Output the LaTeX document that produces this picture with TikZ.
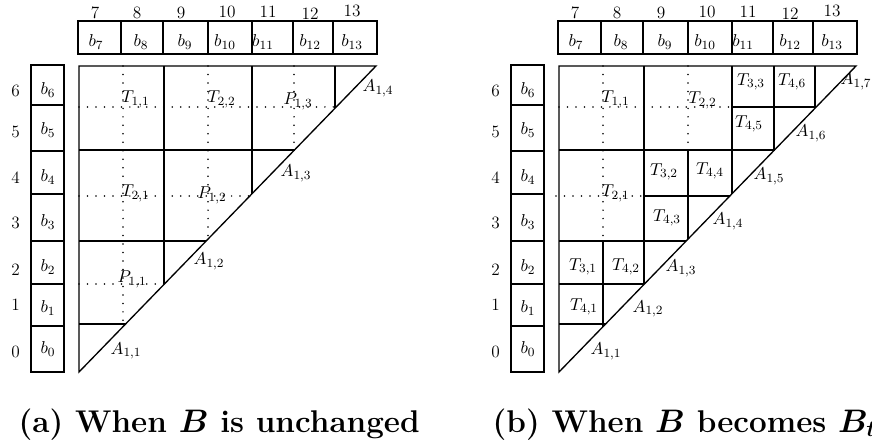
\documentclass[tikz,border=0pt]{standalone}
\usepackage{amsmath}
\begin{document}
\begin{tikzpicture}[x=0.6369pt,y=-0.6369pt,line width=0.85pt,
  lbl/.style={inner sep=0pt,font=\fontsize{11}{13}\selectfont},
  bw/.style={lbl,anchor=base west},
  dotl/.style={line width=1.1pt,dash pattern=on 0pt off 5.4pt,line cap=round},
  captxt/.style={inner sep=0pt,anchor=base west,font=\fontsize{20}{24}\selectfont\bfseries\boldmath}]
\useasboundingbox (0,0) rectangle (872,441);

\newcommand{\pframe}{%
  % column numbers
  \foreach \n/\x/\y in {7/95/12.5,8/137/12.5,9/181/12.5,10/227/12,11/268/12,12/310/14,13/352/10.5}
    \node[lbl] (num\n) at (\x,\y) {\n};
  % top boxes
  \draw (78,21) rectangle (377,54);
  \foreach \x in {121,163,208,252,293,333} \draw (\x,21) -- (\x,54);
  \foreach \n/\x in {7/96,8/141,9/185,10/225,11/263,12/310,13/352}
    \node[lbl] (tb\n) at (\x,42) {$b_{\n}$};
  % left boxes
  \draw (31,65) rectangle (64,372);
  \foreach \y in {105,151,194,241,284,326} \draw (31,\y) -- (64,\y);
  \foreach \n/\y in {6/90,5/130,4/177,3/222,2/267,1/308,0/349}
    \node[lbl] (lb\n) at (48,\y) {$b_{\n}$};
  \foreach \n/\y in {6/91,5/132,4/178,3/223,2/270,1/305,0/352}
    \node[lbl] (rn\n) at (15.5,\y) {\n};
  % main triangle
  \coordinate (tl) at (79,66);
  \coordinate (tr) at (376,66);
  \coordinate (bl) at (79,372);
  \draw (tr) -- (tl) -- (bl) -- cycle;
}

% ---------------- panel (a)
\begin{scope}[name prefix=a-]
\pframe
\draw (79,150) -- (294.5,150);
\draw (79,241) -- (206.1,241);
\draw (79,324) -- (125.6,324);
\draw (164,66) -- (164,284.4);
\draw (252,66) -- (252,193.8);
\draw (335,66) -- (335,108.2);
\draw[dotl] (79,107) -- (335,107);
\draw[dotl] (79,196) -- (249.8,196);
\draw[dotl] (79,284) -- (164,284);
\draw[dotl] (123,66) -- (123,324);
\draw[dotl] (208,66) -- (208,239);
\draw[dotl] (294,66) -- (294,150);
\node[bw] (t11) at (121,103) {$T_{1,1}$};
\node[bw] (t22) at (207,103) {$T_{2,2}$};
\node[bw] (p13) at (283,105) {$P_{1,3}$};
\node[bw] (t21) at (121,197) {$T_{2,1}$};
\node[bw] (p12) at (197,199) {$P_{1,2}$};
\node[bw] (p11) at (117,283) {$P_{1,1}$};
\node[bw] (a11) at (110,354) {$A_{1,1}$};
\node[bw] (a12) at (193,265) {$A_{1,2}$};
\node[bw] (a13) at (280,177) {$A_{1,3}$};
\node[bw] (a14) at (362,92) {$A_{1,4}$};
\end{scope}

% ---------------- panel (b)
\begin{scope}[shift={(480,0)},name prefix=b-]
\pframe
\draw (79,150) -- (294.5,150);
\draw (79,241) -- (206.1,241);
\draw (79,324) -- (125.6,324);
\draw (79,284) -- (164.4,284);
\draw (164,196) -- (249.8,196);
\draw (252,107) -- (336.2,107);
\draw (164,66) -- (164,284.4);
\draw (252,66) -- (252,193.8);
\draw (335,66) -- (335,108.2);
\draw (123,241) -- (123,326.7);
\draw (208,150) -- (208,239.1);
\draw (294,66) -- (294,150);
\draw[dotl] (79,107) -- (252,107);
\draw[dotl] (76,196) -- (164,196);
\draw[dotl] (123,66) -- (123,241);
\draw[dotl] (208,66) -- (208,150);
\node[bw] (t11) at (121,103) {$T_{1,1}$};
\node[bw] (t22) at (208,104) {$T_{2,2}$};
\node[bw] (t21) at (121,197) {$T_{2,1}$};
\node[lbl] (t33) at (271,82) {$T_{3,3}$};
\node[lbl] (t46) at (312,82) {$T_{4,6}$};
\node[lbl] (t45) at (269,124) {$T_{4,5}$};
\node[lbl] (t32) at (184,172) {$T_{3,2}$};
\node[lbl] (t44) at (230,171) {$T_{4,4}$};
\node[lbl] (t43) at (187,218) {$T_{4,3}$};
\node[lbl] (t31) at (103,267) {$T_{3,1}$};
\node[lbl] (t42) at (146,267) {$T_{4,2}$};
\node[lbl] (t41) at (104,307) {$T_{4,1}$};
\node[bw] (a11) at (110,355) {$A_{1,1}$};
\node[bw] (a12) at (152,312) {$A_{1,2}$};
\node[bw] (a13) at (185,272) {$A_{1,3}$};
\node[bw] (a14) at (232,225) {$A_{1,4}$};
\node[bw] (a15) at (273,180) {$A_{1,5}$};
\node[bw] (a16) at (315,137) {$A_{1,6}$};
\node[bw] (a17) at (360,85) {$A_{1,7}$};
\end{scope}

% captions
\node[captxt] (capa) at (18,432) {(a) When $B$ is unchanged};
\node[captxt] (capb) at (492,432) {(b) When $B$ becomes $B_{t}$};
\end{tikzpicture}
\end{document}
